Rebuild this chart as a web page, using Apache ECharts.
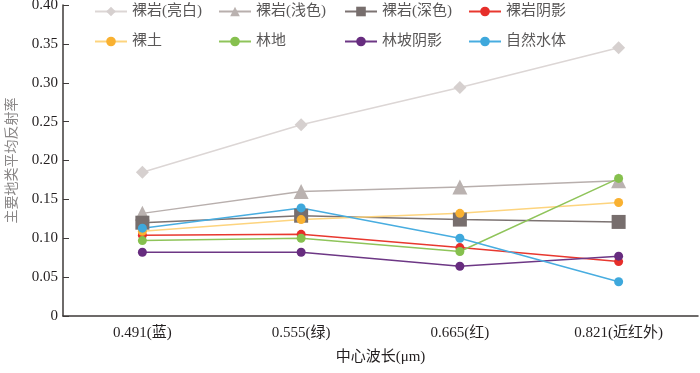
<!DOCTYPE html>
<html>
<head>
<meta charset="utf-8">
<script src="https://cdn.jsdelivr.net/npm/echarts@6/dist/echarts.min.js"></script>
<style>
html, body { margin: 0; padding: 0; background: #fff; }
#main { width: 700px; height: 373px; }
</style>
</head>
<body>
<div id="main"></div>
<script>
var categories = ['0.491(蓝)', '0.555(绿)', '0.665(红)', '0.821(近红外)'];
var yTicks = [0, 0.05, 0.10, 0.15, 0.20, 0.25, 0.30, 0.35, 0.40];

var brightRock = [0.185, 0.246, 0.294, 0.345];
var lightRock = [0.132, 0.160, 0.166, 0.174];
var darkRock = [0.120, 0.129, 0.124, 0.121];
var rockShadow = [0.104, 0.105, 0.088, 0.070];
var bareSoil = [0.109, 0.124, 0.132, 0.146];
var forest = [0.097, 0.100, 0.083, 0.177];
var slopeShadow = [0.082, 0.082, 0.064, 0.077];
var water = [0.113, 0.139, 0.100, 0.044];

var serif = '"Liberation Serif", "Noto Sans CJK SC", serif';

var chart = echarts.init(document.getElementById('main'));

function line(name, data, lineColor, markColor, symbol, size) {
    return {
        name: name,
        type: 'line',
        data: data,
        symbol: symbol,
        symbolSize: size,
        lineStyle: { color: lineColor, width: 1.5 },
        itemStyle: { color: markColor, borderWidth: 0 },
        emphasis: { disabled: true }
    };
}

function legendCol(left, names) {
    return {
        orient: 'vertical',
        left: left,
        top: -1,
        itemWidth: 32,
        itemHeight: 12,
        itemGap: 15,
        data: names,
        textStyle: { fontFamily: serif, fontSize: 15, color: '#595757' }
    };
}

var option = {
    animation: false,
    legend: [
        legendCol(89, ['裸岩(亮白)', '裸土']),
        legendCol(213, ['裸岩(浅色)', '林地']),
        legendCol(339, ['裸岩(深色)', '林坡阴影']),
        legendCol(463, ['裸岩阴影', '自然水体'])
    ],
    grid: { left: 63, right: 2, top: 5, bottom: 57, outerBoundsMode: 'none', containLabel: false },
    xAxis: {
        type: 'category',
        data: categories,
        name: '中心波长(μm)',
        nameLocation: 'middle',
        nameGap: 34,
        nameTextStyle: { fontFamily: serif, fontSize: 15, color: '#231f20' },
        axisLine: { lineStyle: { color: '#3e3a39', width: 1.5 } },
        axisTick: { alignWithLabel: true, inside: true, length: 6, lineStyle: { color: '#3e3a39' } },
        axisLabel: { fontFamily: serif, fontSize: 15, color: '#231f20', margin: 10 }
    },
    yAxis: {
        type: 'value',
        min: 0,
        max: 0.4,
        interval: 0.05,
        name: '主要地类平均反射率',
        nameLocation: 'middle',
        nameGap: 44,
        nameTextStyle: { fontFamily: serif, fontSize: 14, color: '#8a8787' },
        splitLine: { show: false },
        axisLine: { show: true, lineStyle: { color: '#3e3a39', width: 1.5 } },
        axisTick: { show: true, inside: true, length: 6, lineStyle: { color: '#3e3a39' } },
        axisLabel: {
            fontFamily: serif, fontSize: 15, color: '#231f20', margin: 5,
            formatter: function (v) {
                return v === 0 ? '0' : v.toFixed(2);
            }
        }
    },
    series: [
        line('裸岩(亮白)', brightRock, '#dcd6d5', '#d6d0cf', 'diamond', 13),
        line('裸岩(浅色)', lightRock, '#b8afad', '#bab2b0', 'triangle', 15),
        line('裸岩(深色)', darkRock, '#7c7372', '#776e6d', 'rect', 14),
        line('裸岩阴影', rockShadow, '#e8382f', '#e62e2a', 'circle', 9),
        line('裸土', bareSoil, '#fdd47e', '#f9b131', 'circle', 9),
        line('林地', forest, '#8fc45a', '#86c04e', 'circle', 9),
        line('林坡阴影', slopeShadow, '#6d3785', '#672c7f', 'circle', 9),
        line('自然水体', water, '#48ade0', '#3ea8dc', 'circle', 9)
    ]
};

chart.setOption(option);
</script>
</body>
</html>
